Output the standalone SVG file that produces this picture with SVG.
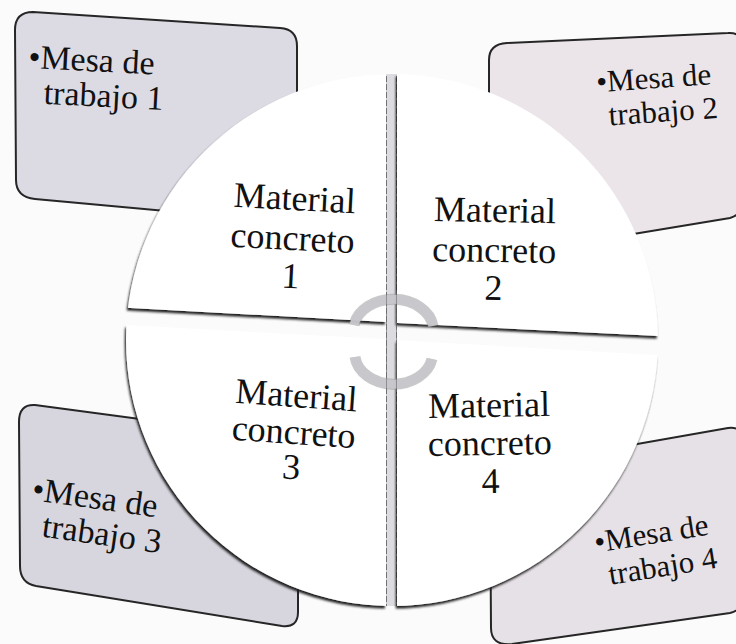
<svg xmlns="http://www.w3.org/2000/svg" width="736" height="644" viewBox="0 0 736 644">
  <defs>
    <clipPath id="circ"><circle cx="392" cy="340" r="266"/></clipPath>
    <filter id="sh" x="-10%" y="-10%" width="120%" height="120%">
      <feDropShadow dx="-1.2" dy="2.6" stdDeviation="0.8" flood-color="#1e1e1e" flood-opacity="1"/>
    </filter>
    <style>
      .box { stroke: #262626; stroke-width: 2; }
      .quad { fill: #ffffff; }
      .t { font-family: "Liberation Serif", "Times New Roman", serif; fill: #111111; }
      .btxt { font-size: 34px; }
      .btxt2 { font-size: 31px; }
      .qtxt { font-size: 36px; text-anchor: middle; }
      .arc { fill: none; stroke: #c8c8cc; stroke-width: 9; opacity: 0.92; }
      .arcedge { fill: none; stroke: #8a8a8e; stroke-width: 11; opacity: 0.45; }
      .gapline { stroke: #7a7a7e; stroke-width: 1; stroke-dasharray: 6 2; }
    </style>
  </defs>
  <rect width="736" height="644" fill="#fcfbfc"/>

  <!-- Outer boxes -->
  <g id="box1">
    <path class="box" fill="#dcdae3" d="M 33,12 L 280,28 Q 297,29 297,46 L 297,223 L 35,199 Q 16,197 16,180 L 15,30 Q 15,12 33,12 Z"/>
  </g>
  <g id="box2">
    <path class="box" fill="#ebe5ea" d="M 507,43 L 728,33 Q 742,32 742,46 L 742,205 Q 742,214 730,218 L 489,258 L 489,60 Q 489,44 507,43 Z"/>
  </g>
  <g id="box3">
    <path class="box" fill="#d7d6df" d="M 35,405 L 298,440 L 298,612 Q 298,628 282,626 L 36,586 Q 20,583 20,566 L 19,422 Q 19,404 35,405 Z"/>
  </g>
  <g id="box4">
    <path class="box" fill="#e6e1e6" d="M 490,470 L 728,428 Q 742,426 742,440 L 742,600 Q 742,610 730,613 L 512,644 Q 491,646 491,628 L 490,470 Z"/>
  </g>

  <!-- vertical gap band -->
  <g id="gap" clip-path="url(#circ)">
    <rect x="386" y="60" width="11" height="560" fill="#dcdce0"/>
    <line class="gapline" x1="386.5" y1="60" x2="386.5" y2="620"/>
    <line class="gapline" x1="396.5" y1="60" x2="396.5" y2="620"/>
  </g>

  <!-- Quadrants -->
  <g id="quad1" filter="url(#sh)">
    <polygon class="quad" clip-path="url(#circ)" points="0,0 386,0 386,322 130,308 0,301"/>
  </g>
  <g id="quad2" filter="url(#sh)">
    <polygon class="quad" clip-path="url(#circ)" points="397,0 736,0 736,340 658,336 397,323"/>
  </g>
  <g id="quad3" filter="url(#sh)">
    <polygon class="quad" clip-path="url(#circ)" points="0,318 128,325 386,339 386,644 0,644"/>
  </g>
  <g id="quad4" filter="url(#sh)">
    <polygon class="quad" clip-path="url(#circ)" points="397,340 657,355 736,359 736,644 397,644"/>
  </g>

  <!-- Cycle arcs -->
  <g id="connectors">
    <path class="arcedge" d="M 354,325 A 40,31 0 0 1 433,326"/>
    <path class="arc" d="M 354,325 A 40,31 0 0 1 433,326"/>
    <path class="arcedge" d="M 355,357 A 39,31 0 0 0 432,359"/>
    <path class="arc" d="M 355,357 A 39,31 0 0 0 432,359"/>
    <line x1="386.5" y1="292" x2="386.5" y2="392" stroke="#6e6e72" stroke-width="1" opacity="0.6"/>
    <line x1="396.5" y1="292" x2="396.5" y2="392" stroke="#6e6e72" stroke-width="1" opacity="0.6"/>
  </g>

  <!-- Quadrant texts -->
  <g id="quad1-text">
    <text class="t qtxt" transform="rotate(3 292 250)"><tspan x="292" y="210">Material</tspan><tspan x="292" y="250">concreto</tspan><tspan x="292" y="288">1</tspan></text>
  </g>
  <g id="quad2-text">
    <text class="t qtxt" transform="rotate(1 494 262)"><tspan x="494" y="222">Material</tspan><tspan x="494" y="262">concreto</tspan><tspan x="494" y="300">2</tspan></text>
  </g>
  <g id="quad3-text">
    <text class="t qtxt" transform="rotate(4 293 444)"><tspan x="293" y="407">Material</tspan><tspan x="293" y="444">concreto</tspan><tspan x="293" y="479">3</tspan></text>
  </g>
  <g id="quad4-text">
    <text class="t qtxt" transform="rotate(-1 490 455)"><tspan x="490" y="417">Material</tspan><tspan x="490" y="455">concreto</tspan><tspan x="490" y="493">4</tspan></text>
  </g>

  <!-- Box texts -->
  <g id="box1-text">
    <text class="t btxt" transform="rotate(3 30 68)"><tspan x="28" y="68">•Mesa de</tspan><tspan x="45" y="103">trabajo 1</tspan></text>
  </g>
  <g id="box2-text">
    <text class="t btxt2" transform="rotate(-4 600 92)"><tspan x="597" y="92">•Mesa de</tspan><tspan x="607" y="126">trabajo 2</tspan></text>
  </g>
  <g id="box3-text">
    <text class="t btxt" transform="rotate(8 33 500)"><tspan x="31" y="500">•Mesa de</tspan><tspan x="46" y="535">trabajo 3</tspan></text>
  </g>
  <g id="box4-text">
    <text class="t btxt2" transform="rotate(-9 600 552)"><tspan x="596" y="552">•Mesa de</tspan><tspan x="605" y="586">trabajo 4</tspan></text>
  </g>
</svg>
